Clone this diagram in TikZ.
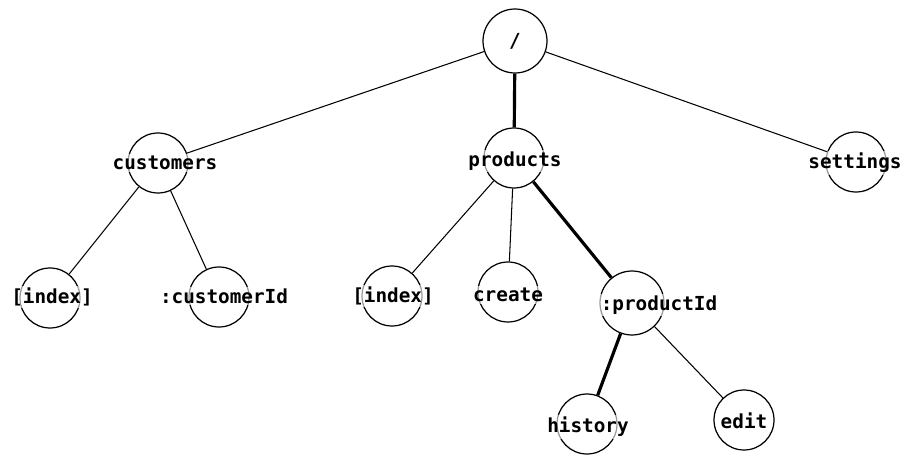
\documentclass[tikz,border=0pt]{standalone}
\usepackage{fontspec}
\newfontfamily\codefont{DejaVu Sans Mono}
\begin{document}
\begin{tikzpicture}[x=0.02cm, y=-0.02cm,
  route/.style={circle, draw, line width=0.7pt, minimum size=1.2cm, inner sep=0pt},
  seg/.style={font=\codefont\bfseries\fontsize{11}{13}\selectfont, fill=white, fill opacity=0.6, text opacity=1, inner sep=1pt},
  edge/.style={line width=0.6pt},
  main/.style={line width=1.8pt}]
\useasboundingbox (0,0) rectangle (913,466);

% circles
\node [route, minimum size=1.28cm] (root) at (515,41) {};
\node [route] (customers) at (158,163) {};
\node [route] (products) at (514,158) {};
\node [route] (settings) at (856,162) {};
\node [route] (cindex) at (50,298) {};
\node [route] (customerid) at (219,297) {};
\node [route] (pindex) at (392,296) {};
\node [route] (create) at (508,292) {};
\node [route, minimum size=1.28cm] (productid) at (632,303) {};
\node [route] (history) at (587,424) {};
\node [route] (edit) at (744,420) {};

% names
\node [seg, fill opacity=0] (t-root) at (515,41) {/};
\node [seg] (t-customers) at (165,163) {customers};
\node [seg] (t-products) at (515,161) {products};
\node [seg] (t-settings) at (855,163) {settings};
\node [seg] (t-cindex) at (52,297) {[index]};
\node [seg] (t-customerid) at (224,296) {:customerId};
\node [seg] (t-pindex) at (393,296) {[index]};
\node [seg] (t-create) at (508,295) {create};
\node [seg] (t-productid) at (659,305) {:productId};
\node [seg] (t-history) at (588,427) {history};
\node [seg] (t-edit) at (744,421) {edit};

% edges
\draw [edge] (root) -- (customers);
\draw [main] (root) -- (products);
\draw [edge] (root) -- (settings);
\draw [edge] (customers) -- (cindex);
\draw [edge] (customers) -- (customerid);
\draw [edge] (products) -- (pindex);
\draw [edge] (products) -- (create);
\draw [main] (products) -- (productid);
\draw [main] (productid) -- (history);
\draw [edge] (productid) -- (edit);
\end{tikzpicture}
\end{document}
